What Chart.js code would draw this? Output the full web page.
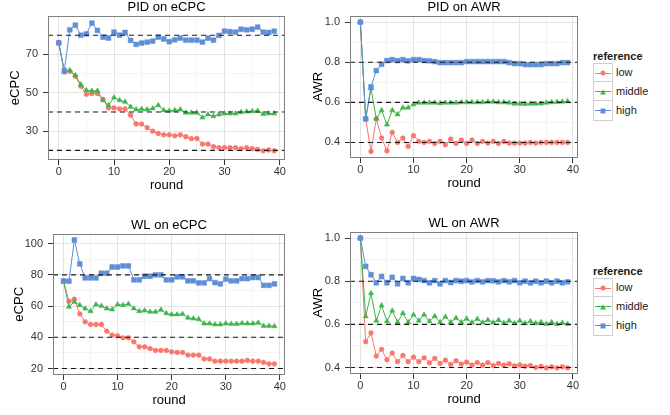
<!DOCTYPE html>
<html>
<head>
<meta charset="utf-8">
<script src="https://cdn.jsdelivr.net/npm/chart.js@4.4.1/dist/chart.umd.min.js"></script>
<style>
  body { margin:0; background:#fff; width:670px; height:415px; position:relative; overflow:hidden;
         font-family:"Liberation Sans", Arial, sans-serif; }
  canvas { position:absolute; }
  .legend { position:absolute; font-size:11px; color:#1a1a1a; }
  .legend .ttl { font-weight:bold; height:13px; line-height:13px; margin-bottom:0; }
  .legend .row { position:relative; height:19px; }
  .legend .key { position:absolute; left:0; top:0; width:18px; height:18px; border:1px solid #cfcfcf; background:#fff; }
  .legend .row + .row .key { top:-1px; height:19px; }
  .legend .ln { position:absolute; left:1px; right:1px; top:9px; height:1px; }
  .legend .mk { position:absolute; left:50%; top:50%; transform:translate(-50%,-50%); }
  .legend .lab { position:absolute; left:23px; top:3px; line-height:13px; }
</style>
</head>
<body>
<canvas id="c1" width="300" height="200" style="left:0;top:0"></canvas>
<canvas id="c2" width="290" height="198" style="left:300px;top:0"></canvas>
<canvas id="c3" width="300" height="197" style="left:0;top:218px"></canvas>
<canvas id="c4" width="290" height="198" style="left:300px;top:216px"></canvas>
<div class="legend" id="lg1" style="left:593px;top:50px"></div>
<div class="legend" id="lg2" style="left:593px;top:265px"></div>
<script>
const ROUNDS = [0,1,2,3,4,5,6,7,8,9,10,11,12,13,14,15,16,17,18,19,
                20,21,22,23,24,25,26,27,28,29,30,31,32,33,34,35,36,37,38,39];
const SERIES = ['low','middle','high'];
const COLORS = { low:'#F8766D', middle:'#3DB54A', high:'#5E8FD6' };

const X_TICKS = [0,10,20,30,40];
const X_MINOR = [5,15,25,35];
const X_MIN = -1.95, X_MAX = 40.95;

const ECPC_REFS = [20,40,80];
const AWR_REFS = [0.4,0.6,0.8];

// PID on eCPC
const PID_ECPC_LOW = [76,60.8,61.2,58.6,53.4,49.2,49.6,49.6,46.6,42.1,
  42.1,41.6,41.6,38.3,33.8,33.7,31.8,30.0,28.8,28.1,
  28.1,27.6,28.1,27.1,26.1,26.2,23.3,23.3,21.9,21.4,
  21.4,21.4,21.4,20.9,21.4,20.9,20.5,19.8,20.2,19.8];
const PID_ECPC_MID = [76,60.8,61.7,59.1,54.3,51.3,51.0,51.0,46.1,43.5,
  47.5,46.1,45.3,42.7,41.3,41.5,41.3,41.8,43.5,40.9,
  40.6,40.9,41.3,39.6,39.6,39.6,37.1,38.7,37.8,38.7,
  39.2,39.2,39.2,39.9,40.2,40.4,40.6,38.9,39.2,39.2];
const PID_ECPC_HIGH = [76,61.7,82.8,85.2,80.0,80.7,86.3,82.5,79.0,78.5,
  81.6,80.0,81.4,77.3,75.2,75.9,76.4,76.9,79.0,78.0,
  76.6,77.6,78.5,77.4,77.4,77.4,76.4,78.5,77.4,79.9,
  82.1,81.9,81.6,83.1,82.8,83.1,84.2,81.6,81.4,82.1];
const PID_ECPC_TICKS = [30,50,70];
const PID_ECPC_MINOR = [20,40,60,80];

// PID on AWR
const PID_AWR_LOW = [1.0,0.518,0.355,0.518,0.422,0.358,0.45,0.40,0.422,0.38,
  0.434,0.405,0.40,0.405,0.395,0.405,0.388,0.417,0.395,0.412,
  0.395,0.412,0.395,0.405,0.397,0.405,0.395,0.405,0.397,0.397,
  0.397,0.397,0.40,0.397,0.40,0.40,0.40,0.40,0.40,0.40];
const PID_AWR_MID = [1.0,0.518,0.669,0.518,0.56,0.489,0.56,0.54,0.573,0.573,
  0.59,0.598,0.598,0.598,0.598,0.595,0.598,0.598,0.598,0.60,
  0.60,0.60,0.60,0.60,0.603,0.603,0.60,0.60,0.598,0.593,
  0.593,0.592,0.593,0.593,0.594,0.598,0.60,0.602,0.603,0.605];
const PID_AWR_HIGH = [1.0,0.518,0.677,0.758,0.79,0.808,0.813,0.808,0.813,0.807,
  0.813,0.813,0.808,0.807,0.803,0.798,0.798,0.798,0.798,0.798,
  0.803,0.803,0.803,0.803,0.803,0.803,0.803,0.803,0.798,0.793,
  0.793,0.788,0.788,0.788,0.788,0.793,0.793,0.793,0.798,0.798];
const AWR_TICKS = [0.4,0.6,0.8,1.0];
const AWR_MINOR = [0.5,0.7,0.9];

// WL on eCPC
const WL_ECPC_LOW = [76,63.1,64.4,55.0,49.9,48.2,48.2,48.2,43.9,41.4,
  40.9,39.7,39.7,37.1,33.9,33.9,32.8,31.6,31.6,31.6,
  30.7,30.3,30.3,28.6,28.6,28.6,26.1,26.1,24.7,24.7,
  24.7,24.7,24.7,24.7,25.2,24.7,24.7,23.9,23.0,23.0];
const WL_ECPC_MID = [76,59.5,62.7,60.6,58.4,56.7,61.0,60.1,58.4,57.8,
  61.0,60.6,61.4,58.4,56.7,57.1,56.3,56.3,57.6,55.4,
  54.6,54.6,55.0,52.5,52.0,51.6,48.8,48.8,48.2,48.2,
  48.8,48.6,48.6,49.0,48.8,48.8,49.3,47.3,47.3,47.1];
const WL_ECPC_HIGH = [76,76,102.3,87,78,78,78,81,81,85,
  85,85.7,85.7,76.8,76.8,79.1,79.1,80,80,76.8,
  76.8,78.7,78.7,76.1,76.1,74.8,74.8,77.6,75,74.2,
  77.2,76.1,76.1,77.6,77.6,78.3,78.3,73.3,73.3,74.2];
const WL_ECPC_TICKS = [20,40,60,80,100];
const WL_ECPC_MINOR = [30,50,70,90];

// WL on AWR
const WL_AWR_LOW = [1.0,0.52,0.56,0.453,0.484,0.436,0.467,0.427,0.456,0.427,
  0.448,0.427,0.445,0.422,0.442,0.419,0.434,0.414,0.431,0.416,
  0.425,0.411,0.423,0.411,0.423,0.409,0.419,0.411,0.417,0.408,
  0.412,0.406,0.409,0.40,0.405,0.398,0.403,0.398,0.403,0.398];
const WL_AWR_MID = [1.0,0.637,0.744,0.617,0.687,0.614,0.663,0.61,0.652,0.61,
  0.645,0.617,0.645,0.614,0.638,0.61,0.635,0.61,0.629,0.61,
  0.626,0.609,0.625,0.609,0.62,0.609,0.62,0.606,0.617,0.605,
  0.617,0.605,0.614,0.605,0.61,0.602,0.61,0.602,0.607,0.602];
const WL_AWR_HIGH = [1.0,0.869,0.83,0.793,0.822,0.793,0.818,0.788,0.813,0.793,
  0.813,0.808,0.803,0.793,0.803,0.788,0.803,0.794,0.803,0.80,
  0.803,0.797,0.803,0.797,0.803,0.802,0.797,0.803,0.797,0.803,
  0.793,0.80,0.793,0.80,0.793,0.80,0.793,0.80,0.793,0.797];

Chart.defaults.font.family = '"Liberation Sans", Arial, sans-serif';

const POINT = { low:{style:'circle', r:2.4}, middle:{style:'triangle', r:3}, high:{style:'rect', r:3.4} };

const panelBorder = {
  id:'panelBorder',
  afterDraw(chart){
    const {ctx, chartArea:a} = chart;
    ctx.save();
    ctx.strokeStyle = '#808080'; ctx.lineWidth = 1;
    ctx.strokeRect(Math.round(a.left)+0.5, Math.round(a.top)+0.5,
                   Math.round(a.right-a.left)-1, Math.round(a.bottom-a.top)-1);
    ctx.restore();
  }
};

const tickList = (major, minor) =>
  major.map(v => ({value:v})).concat(minor.map(v => ({value:v, minor:true})))
       .sort((a,b) => a.value - b.value);

const gridColor = c => (c.tick && c.tick.minor) ? '#F4F4F4' : '#E3E3E3';
const tickColor = c => (c.tick && c.tick.minor) ? 'rgba(0,0,0,0)' : '#333';

function makePanel(id, o) {
  const pts = vals => ROUNDS.map((r,i) => ({x:r, y:vals[i]}));
  const refs = o.refs.map(v => ({
    data:[{x:X_MIN, y:v},{x:X_MAX, y:v}], borderColor:'#1a1a1a', borderWidth:1.1,
    borderDash:[5,4], pointRadius:0
  }));
  const lines = ['high','middle','low'].map(k => ({
    label:k, data:pts(o.vals[k]), borderColor:COLORS[k], backgroundColor:COLORS[k],
    borderWidth:1, pointStyle:POINT[k].style, pointRadius:POINT[k].r,
    pointBackgroundColor:COLORS[k], pointBorderColor:COLORS[k], pointBorderWidth:0.5
  }));
  return new Chart(document.getElementById(id), {
    type:'line',
    data:{ datasets: refs.concat(lines) },
    options:{
      responsive:false, animation:false, devicePixelRatio:1, events:[],
      layout:{ padding:{left:0, right:o.padRight, top:0, bottom:0}, autoPadding:false },
      plugins:{
        legend:{display:false}, tooltip:{enabled:false},
        title:{ display:true, text:o.title, fullSize:false, color:'#000',
                font:{size:13, weight:'normal'}, padding:0 }
      },
      scales:{
        x:{
          type:'linear', min:X_MIN, max:X_MAX,
          afterBuildTicks: s => { s.ticks = tickList(X_TICKS, X_MINOR); },
          afterFit: s => { s.height = 40; },
          ticks:{ autoSkip:false, maxRotation:0, padding:0, color:'#333', font:{size:11},
                  callback:(v,i,t) => t[i].minor ? '' : v },
          grid:{ color:gridColor, tickColor:tickColor, tickLength:5 },
          border:{ display:false },
          title:{ display:true, text:'round', color:'#000', font:{size:13}, padding:{top:0, bottom:7} }
        },
        y:{
          type:'linear', min:o.yMin, max:o.yMax,
          afterBuildTicks: s => { s.ticks = tickList(o.ticks, o.minor); },
          afterFit: s => { s.width = o.yWidth; },
          ticks:{ autoSkip:false, padding:5, color:'#333', font:{size:11},
                  callback:(v,i,t) => t[i].minor ? '' : (o.dec ? v.toFixed(o.dec) : v) },
          grid:{ color:gridColor, tickColor:tickColor, tickLength:5 },
          border:{ display:false },
          title:{ display:true, text:o.yTitle, color:'#000', font:{size:13}, padding:{top:o.yTitlePad, bottom:0} }
        }
      }
    },
    plugins:[panelBorder]
  });
}

makePanel('c1', { title:'PID on eCPC', yTitle:'eCPC', yMin:15, yMax:90.2, ticks:PID_ECPC_TICKS, minor:PID_ECPC_MINOR,
  refs:ECPC_REFS, dec:0, yWidth:48, yTitlePad:8, padRight:15,
  vals:{low:PID_ECPC_LOW, middle:PID_ECPC_MID, high:PID_ECPC_HIGH} });
makePanel('c2', { title:'PID on AWR', yTitle:'AWR', yMin:0.3225, yMax:1.0325, ticks:AWR_TICKS, minor:AWR_MINOR,
  refs:AWR_REFS, dec:1, yWidth:50, yTitlePad:11, padRight:12,
  vals:{low:PID_AWR_LOW, middle:PID_AWR_MID, high:PID_AWR_HIGH} });
makePanel('c3', { title:'WL on eCPC', yTitle:'eCPC', yMin:15.87, yMax:106.4, ticks:WL_ECPC_TICKS, minor:WL_ECPC_MINOR,
  refs:ECPC_REFS, dec:0, yWidth:53, yTitlePad:12, padRight:15,
  vals:{low:WL_ECPC_LOW, middle:WL_ECPC_MID, high:WL_ECPC_HIGH} });
makePanel('c4', { title:'WL on AWR', yTitle:'AWR', yMin:0.37, yMax:1.03, ticks:AWR_TICKS, minor:AWR_MINOR,
  refs:AWR_REFS, dec:1, yWidth:50, yTitlePad:11, padRight:12,
  vals:{low:WL_AWR_LOW, middle:WL_AWR_MID, high:WL_AWR_HIGH} });

// ggplot-style legends
function marker(k) {
  const c = COLORS[k];
  if (k === 'low') return `<div class="mk" style="width:5px;height:5px;border-radius:50%;background:${c}"></div>`;
  if (k === 'middle') return `<div class="mk" style="width:0;height:0;border-left:3px solid transparent;border-right:3px solid transparent;border-bottom:5px solid ${c}"></div>`;
  return `<div class="mk" style="width:5px;height:5px;background:${c}"></div>`;
}
['lg1','lg2'].forEach(id => {
  document.getElementById(id).innerHTML = '<div class="ttl">reference</div>' +
    SERIES.map(k => `<div class="row"><div class="key"><div class="ln" style="background:${COLORS[k]}"></div>${marker(k)}</div><div class="lab">${k}</div></div>`).join('');
});
</script>
</body>
</html>
